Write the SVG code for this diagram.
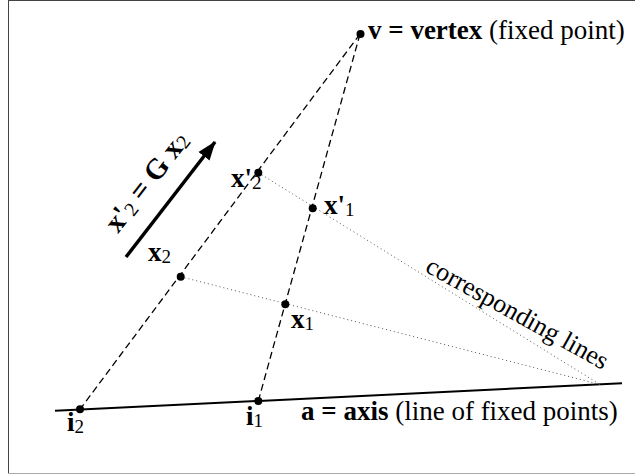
<svg xmlns="http://www.w3.org/2000/svg" width="635" height="475" viewBox="0 0 635 475">
<style>
.t{font-family:"Liberation Serif","Times New Roman",serif;font-size:27px;fill:#000}
.b{font-weight:bold}
.s{font-size:19px;font-weight:normal}
.dash{stroke:#000;stroke-width:1.3;stroke-dasharray:7 4;fill:none}
.dot{stroke:#555;stroke-width:1;stroke-dasharray:1 3;fill:none}
.pt{fill:#000}
</style>
<defs>
<marker id="ah" markerUnits="userSpaceOnUse" markerWidth="20" markerHeight="16" refX="18" refY="8" orient="auto">
<path d="M0,1 L19,8 L0,15 Z" fill="#000"/>
</marker>
</defs>
<rect width="635" height="475" fill="#fff"/>
<line x1="8.5" y1="0" x2="8.5" y2="474" stroke="#444" stroke-width="1"/>
<line x1="8" y1="0.5" x2="635" y2="0.5" stroke="#444" stroke-width="1"/>
<line x1="8" y1="473.5" x2="635" y2="473.5" stroke="#aaa" stroke-width="1"/>

<g id="connectors">
<line id="axis" x1="55" y1="410.8" x2="622" y2="383.3" stroke="#000" stroke-width="2"/>
<line class="dash" x1="360" y1="34" x2="80" y2="409.3"/>
<line class="dash" x1="360" y1="34" x2="258.3" y2="401"/>
<line class="dot" x1="258.3" y1="172.7" x2="600" y2="384.5"/>
<line class="dot" x1="180.7" y1="276.7" x2="600" y2="384.5"/>
<line x1="126" y1="257" x2="215" y2="142" stroke="#000" stroke-width="3.5" marker-end="url(#ah)"/>
</g>

<g id="node-v"><circle class="pt" cx="360.5" cy="34" r="4"/>
<text class="t" x="368" y="38.5"><tspan class="b">v = vertex</tspan> (fixed point)</text></g>
<g id="node-x2p"><circle class="pt" cx="258.3" cy="172.7" r="4"/>
<text class="t b" x="231" y="187">x'<tspan class="s" dy="2">2</tspan></text></g>
<g id="node-x1p"><circle class="pt" cx="312.7" cy="208.3" r="4"/>
<text class="t b" x="324" y="213.5">x'<tspan class="s" dy="2">1</tspan></text></g>
<g id="node-x2"><circle class="pt" cx="180.7" cy="276.7" r="4"/>
<text class="t b" x="148" y="261">x<tspan class="s" dy="2">2</tspan></text></g>
<g id="node-x1"><circle class="pt" cx="285.3" cy="304.3" r="4"/>
<text class="t b" x="291" y="328">x<tspan class="s" dy="2">1</tspan></text></g>
<g id="node-i2"><circle class="pt" cx="80" cy="409.3" r="4"/>
<text class="t b" x="67" y="431">i<tspan class="s" dy="2">2</tspan></text></g>
<g id="node-i1"><circle class="pt" cx="258.3" cy="401" r="4"/>
<text class="t b" x="246" y="424.5">i<tspan class="s" dy="2">1</tspan></text></g>
<g id="label-axis"><text class="t" x="301" y="419.5"><tspan class="b">a = axis</tspan> (line of fixed points)</text></g>
<g id="label-lines"><text class="t" style="font-size:26px" transform="translate(424,271) rotate(29)">corresponding lines</text></g>
<g id="label-map"><text class="t b" style="font-size:29px" transform="translate(118,234) rotate(-52.3)">x'<tspan class="s" style="font-size:20px" dy="2">2</tspan><tspan dy="-2"> = G x</tspan><tspan class="s" style="font-size:20px" dy="2">2</tspan></text></g>
</svg>
